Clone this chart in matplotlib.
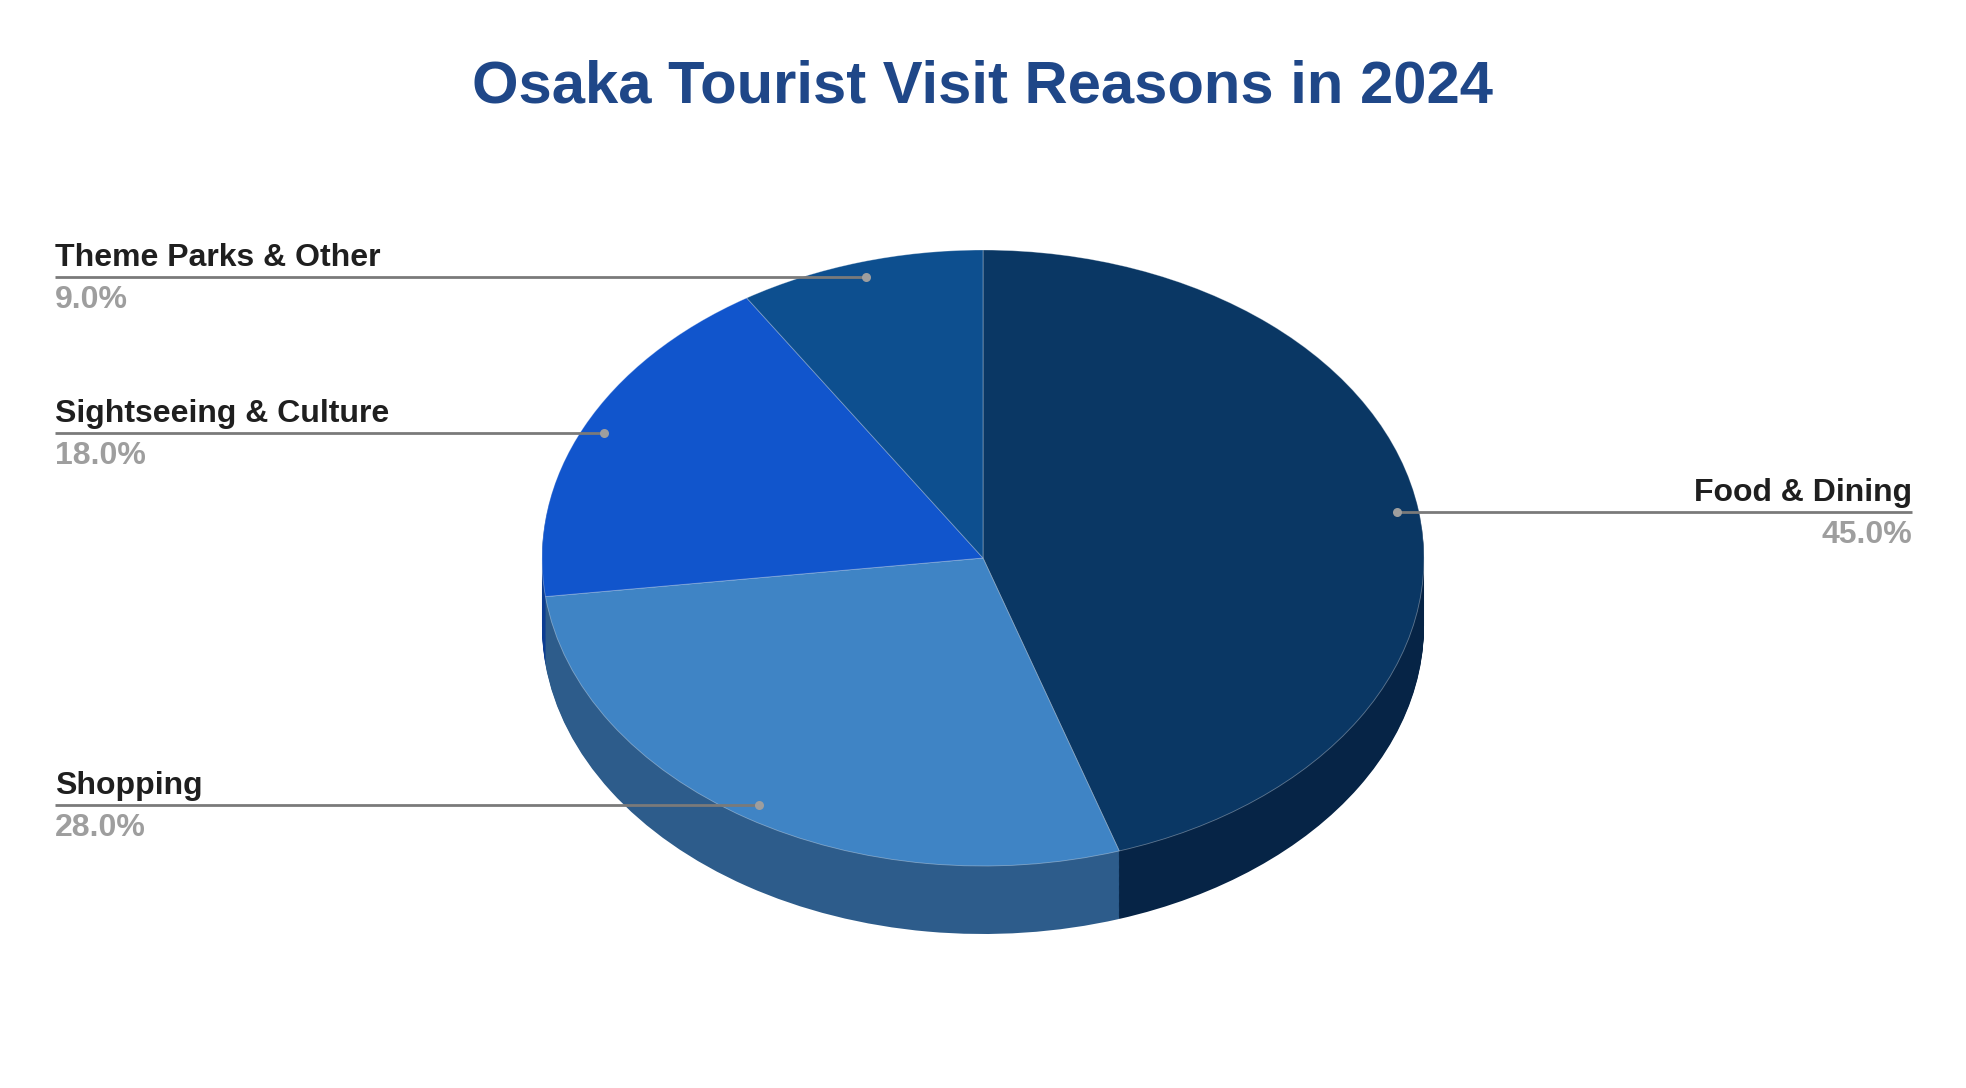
import numpy as np
import matplotlib
matplotlib.use("Agg")
import matplotlib.pyplot as plt

# ---------------- data ----------------
labels = ["Food & Dining", "Shopping", "Sightseeing & Culture", "Theme Parks & Other"]
shares = [45.0, 28.0, 18.0, 9.0]
top_colors = ["#0a3764", "#3f84c5", "#1155cc", "#0d4f8f"]
side_colors = ["#062446", "#2d5c8b", "#0c3d93", "#093866"]
title = "Osaka Tourist Visit Reasons in 2024"

# ---------------- layout (pixels) ----------------
W, H = 1966, 1088
cx, cy = 983, 558        # centre of the top face, from top
rx, ry = 441, 308        # ellipse radii
depth = 68               # thickness of the pie
left_x, right_x = 55, 1912

plt.rcParams["font.family"] = ["Liberation Sans", "DejaVu Sans"]

fig = plt.figure(figsize=(W / 100, H / 100), dpi=100)
fig.patch.set_facecolor("white")

# pie axes: unit circle stretched into the ellipse
ax = fig.add_axes([0, 0, 1, 1])
cyb = H - cy
xlim = (-cx / rx, (W - cx) / rx)
ylim = (-cyb / ry, (H - cyb) / ry)

n_layers = 60
for k in range(n_layers, 0, -1):
    off = -depth / ry * k / n_layers
    ax.pie(shares, colors=side_colors, startangle=90, counterclock=False,
           center=(0, off), radius=1,
           wedgeprops=dict(linewidth=0, antialiased=True))
ax.pie(shares, colors=top_colors, startangle=90, counterclock=False,
       center=(0, 0), radius=1,
       wedgeprops=dict(linewidth=0.6, edgecolor=(1, 1, 1, 0.35)))
ax.set_aspect("auto")
ax.set_xlim(*xlim)
ax.set_ylim(*ylim)
ax.set_axis_off()

# overlay axes in pixel coordinates for labels
lx = fig.add_axes([0, 0, 1, 1], facecolor="none")
lx.set_xlim(0, W)
lx.set_ylim(H, 0)
lx.set_axis_off()

fig.text(0.5, 1 - 87 / H, title, ha="center", va="center",
         fontsize=43, fontweight="bold", color="#1f4788")

cum = np.cumsum([0] + shares)
total = sum(shares)
for i, (name, v) in enumerate(zip(labels, shares)):
    mid = (cum[i] + v / 2) / total * 2 * np.pi   # clockwise from top
    dx = cx + 0.95 * rx * np.sin(mid)
    dy = cy - 0.95 * ry * np.cos(mid)
    if np.sin(mid) >= 0:
        tx, ha = right_x, "right"
    else:
        tx, ha = left_x, "left"
    lx.plot([tx, dx], [dy, dy], color="#7a7a7a", lw=2, solid_capstyle="butt", zorder=3)
    lx.plot(dx, dy, "o", ms=6.5, color="#9e9e9e", mec="none", zorder=4)
    lx.text(tx, dy - 4, name, ha=ha, va="bottom", fontsize=23,
            fontweight="bold", color="#1f1f1f")
    lx.text(tx, dy + 8, f"{v:.1f}%", ha=ha, va="top", fontsize=23,
            fontweight="bold", color="#9e9e9e")

fig.savefig("out.png", dpi=100, facecolor="white")
